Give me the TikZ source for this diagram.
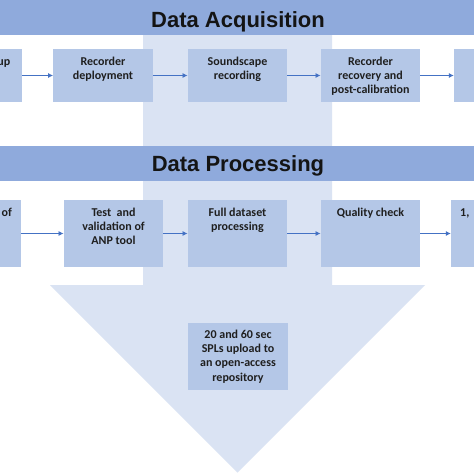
\documentclass[tikz,border=0pt]{standalone}
\usepackage{fontspec}
\setmainfont{Carlito}
\newfontfamily\headfont{Liberation Sans}
\usetikzlibrary{arrows.meta,positioning}

% Colors
\definecolor{barblue}{HTML}{8FAADC}
\definecolor{boxblue}{HTML}{B4C7E7}
\definecolor{flowblue}{HTML}{DAE3F3}
\definecolor{linkblue}{HTML}{4472C4}

\tikzset{
  stepbox/.style={fill=boxblue, inner sep=0pt, minimum width=99.5pt},
  boxtext/.style={font=\bfseries\fontsize{12}{14.3}\selectfont, text=black!88, align=center, inner sep=0pt},
  headtext/.style={font=\headfont\bfseries\fontsize{22}{26}\selectfont, text=black!92, anchor=base},
  link/.style={draw=linkblue, line width=0.8pt, -{Latex[length=5pt,width=5pt]}}
}

\begin{document}
\begin{tikzpicture}[
  x=1pt, y=-1pt, % pixel size, y runs downward
  line join=round
]
  % ---- canvas ----
  \useasboundingbox (0,0) rectangle (474,474);
  \clip (0,0) rectangle (474,474);
  \fill[white] (0,0) rectangle (474,474);

  % ---- big down arrow behind everything ----
  \fill[flowblue] (143,30) -- (332,30) -- (332,285) -- (425,285)
    -- (237.5,472.5) -- (50,285) -- (143,285) -- cycle;

  % ---- header bars ----
  \fill[barblue] (0,0) rectangle (474,35);
  \fill[barblue] (0,146) rectangle (474,181);
  \node[headtext] (acq) at (238,27) {Data Acquisition};
  \node[headtext] (proc) at (238,171.5) {Data Processing};

  % ---- row 1: acquisition steps (y = 49..102) ----
  \foreach \name/\cx in {setup/-27.75, deploy/103, record/237.5, recover/370.5, store/503.75} {
    \node[stepbox, minimum height=53pt] (\name) at (\cx,75.5) {};
  }
  \node[boxtext, anchor=base east] (setup-t) at (10.5,65) {up};
  \node[boxtext, below=7.6pt of deploy.north] (deploy-t) {Recorder\\deployment};
  \node[boxtext, below=7.6pt of record.north] (record-t) {Soundscape\\recording};
  \node[boxtext, below=7.6pt of recover.north] (recover-t) {Recorder\\recovery and\\post-calibration};

  \foreach \a/\b in {setup/deploy, deploy/record, record/recover, recover/store} {
    \draw[link] (\a) -- (\b);
  }

  % ---- row 2: processing steps (y = 200..267) ----
  \foreach \name/\cx in {prev/-28.75, test/113.5, full/237.5, quality/370.5, result/500.75} {
    \node[stepbox, minimum height=67pt] (\name) at (\cx,233.5) {};
  }
  \node[boxtext, anchor=base east] (prev-t) at (12,216) {of};
  \node[boxtext, below=7.6pt of test.north] (test-t) {Test\ \ and\\validation of\\ANP tool};
  \node[boxtext, below=7.6pt of full.north] (full-t) {Full dataset\\processing};
  \node[boxtext, below=7.6pt of quality.north] (quality-t) {Quality check};
  \node[boxtext, anchor=base west] (result-t) at (460,216) {1,};

  \foreach \a/\b in {prev/test, test/full, full/quality, quality/result} {
    \draw[link] (\a) -- (\b);
  }

  % ---- final step inside the arrow ----
  \node[stepbox, boxtext, minimum width=100pt, minimum height=67pt] (upload) at (238,356.5)
    {20 and 60 sec\\SPLs upload to\\an open-access\\repository};

\end{tikzpicture}
\end{document}
